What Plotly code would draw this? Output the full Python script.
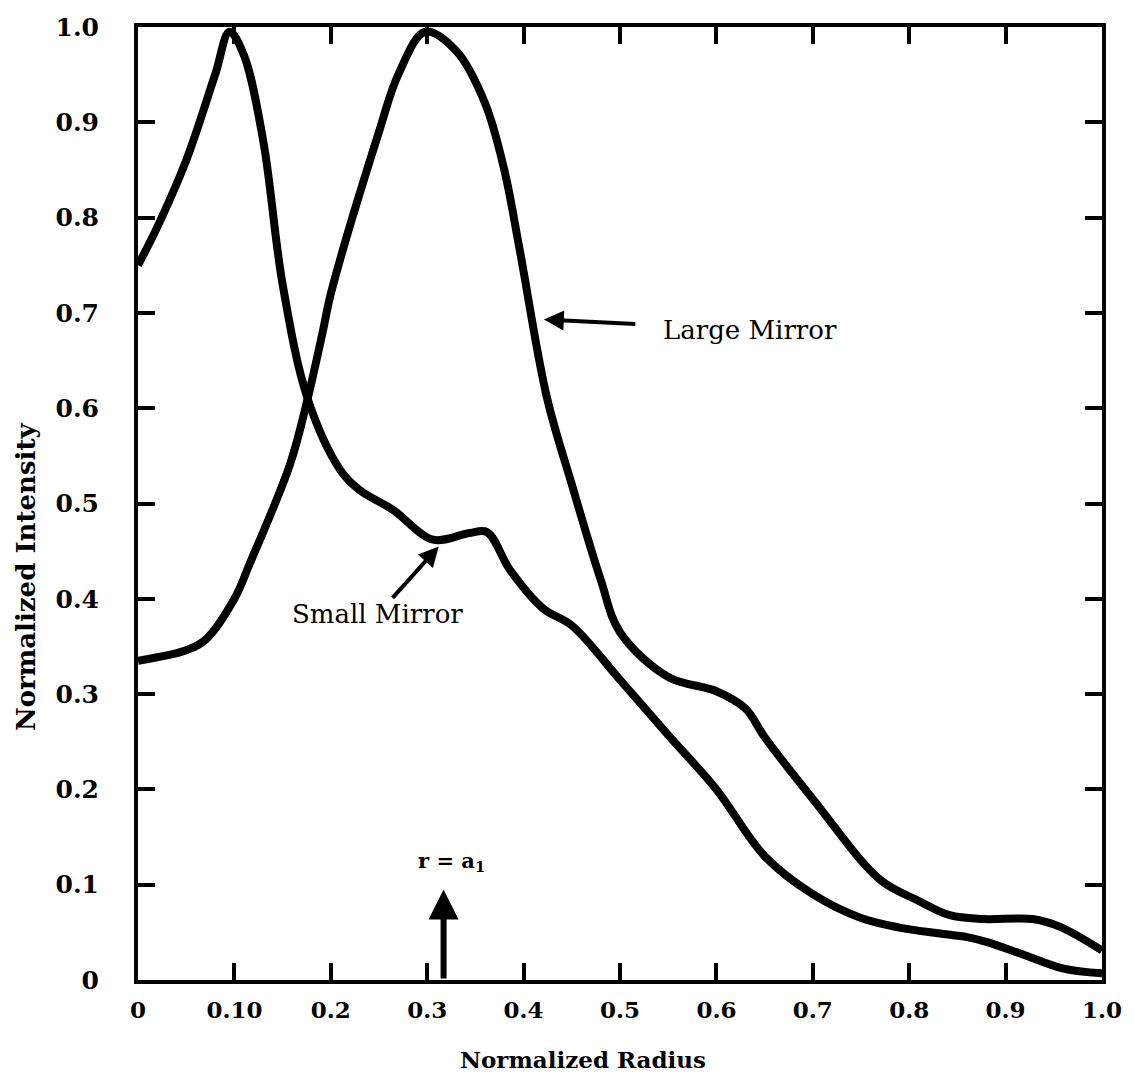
import plotly.graph_objects as go

# Data
small_x = [0.0, 0.02, 0.05, 0.08, 0.095, 0.11, 0.13, 0.15, 0.176, 0.21, 0.23, 0.265, 0.306, 0.344, 0.362,
           0.386, 0.42, 0.45, 0.5, 0.55, 0.6, 0.65, 0.7, 0.75, 0.79, 0.83, 0.86, 0.88, 0.92, 0.96, 1.0]
small_y = [0.75, 0.79, 0.86, 0.95, 0.995, 0.97, 0.88, 0.73, 0.61, 0.535, 0.514, 0.493, 0.462, 0.469, 0.47,
           0.43, 0.39, 0.372, 0.315, 0.257, 0.2, 0.13, 0.09, 0.065, 0.055, 0.049, 0.045, 0.04, 0.026, 0.012, 0.007]

large_x = [0.0, 0.05, 0.07, 0.1, 0.116, 0.158, 0.176, 0.192, 0.2, 0.25, 0.27, 0.298, 0.33, 0.36, 0.38,
           0.396, 0.424, 0.45, 0.48, 0.5, 0.55, 0.6, 0.63, 0.65, 0.7, 0.77, 0.808, 0.842, 0.877, 0.928, 0.956, 1.0]
large_y = [0.335, 0.346, 0.357, 0.4, 0.437, 0.542, 0.61, 0.682, 0.72, 0.89, 0.95, 0.995, 0.975, 0.92, 0.85,
           0.766, 0.612, 0.52, 0.42, 0.365, 0.318, 0.303, 0.285, 0.255, 0.19, 0.105, 0.084, 0.068, 0.064, 0.064, 0.056, 0.031]

x_ticks = [0.0, 0.1, 0.2, 0.3, 0.4, 0.5, 0.6, 0.7, 0.8, 0.9, 1.0]
x_tick_text = ["0", "0.10", "0.2", "0.3", "0.4", "0.5", "0.6", "0.7", "0.8", "0.9", "1.0"]
y_ticks = [0.0, 0.1, 0.2, 0.3, 0.4, 0.5, 0.6, 0.7, 0.8, 0.9, 1.0]
y_tick_text = ["0", "0.1", "0.2", "0.3", "0.4", "0.5", "0.6", "0.7", "0.8", "0.9", "1.0"]

FONT = "DejaVu Serif"

fig = go.Figure()
fig.add_trace(go.Scatter(x=small_x, y=small_y, mode="lines", name="Small Mirror",
                         line=dict(color="black", width=8, shape="spline", smoothing=1.0)))
fig.add_trace(go.Scatter(x=large_x, y=large_y, mode="lines", name="Large Mirror",
                         line=dict(color="black", width=8, shape="spline", smoothing=1.0)))

axis_common = dict(
    range=[0, 1], showgrid=False, zeroline=False, showline=True, linecolor="black",
    linewidth=4, mirror="ticks", ticks="inside", tickcolor="black", tickwidth=4, ticklen=17,
)

fig.update_xaxes(**axis_common, tickvals=x_ticks, ticktext=x_tick_text, ticklabelstandoff=6,
                 tickfont=dict(family=FONT, size=23, color="black", weight="bold"))
fig.update_yaxes(**axis_common, tickvals=y_ticks, ticktext=y_tick_text, ticklabelstandoff=30,
                 tickfont=dict(family=FONT, size=25, color="black", weight="bold"))

# Axis titles
fig.add_annotation(x=0.462, y=-0.083, xref="paper", yref="paper", text="Normalized Radius",
                   xanchor="center", yanchor="middle", showarrow=False,
                   font=dict(family=FONT, size=23, color="black", weight="bold"))
fig.add_annotation(x=-0.116, y=0.423, xref="paper", yref="paper", text="Normalized Intensity",
                   xanchor="center", yanchor="middle", showarrow=False, textangle=-90,
                   font=dict(family=FONT, size=26, color="black", weight="bold"))

# Curve labels with pointer arrows
fig.add_annotation(x=0.421, y=0.693, xref="x", yref="y", text="Large Mirror", showarrow=True,
                   ax=206, ay=10, arrowhead=2, arrowsize=1, arrowwidth=4, arrowcolor="black",
                   startstandoff=26, font=dict(family=FONT, size=26, color="black"))
fig.add_annotation(x=0.312, y=0.455, xref="x", yref="y", text="Small Mirror", showarrow=True,
                   ax=-61, ay=68, arrowhead=2, arrowsize=1, arrowwidth=4, arrowcolor="black",
                   font=dict(family=FONT, size=26, color="black"))

# r = a1 marker
fig.add_annotation(x=0.317, y=0.095, xref="x", yref="y", text="", showarrow=True,
                   axref="x", ayref="y", ax=0.317, ay=0.0, arrowhead=2, arrowsize=1,
                   arrowwidth=6, arrowcolor="black")
fig.add_annotation(x=0.325, y=0.124, xref="x", yref="y", text="r = a<sub>1</sub>", showarrow=False,
                   font=dict(family=FONT, size=21, color="black", weight="bold"))

fig.update_layout(
    width=1134, height=1079, showlegend=False,
    plot_bgcolor="white", paper_bgcolor="white",
    margin=dict(l=138, r=32, t=27, b=99, autoexpand=False),
)

fig.write_html("out.html")
